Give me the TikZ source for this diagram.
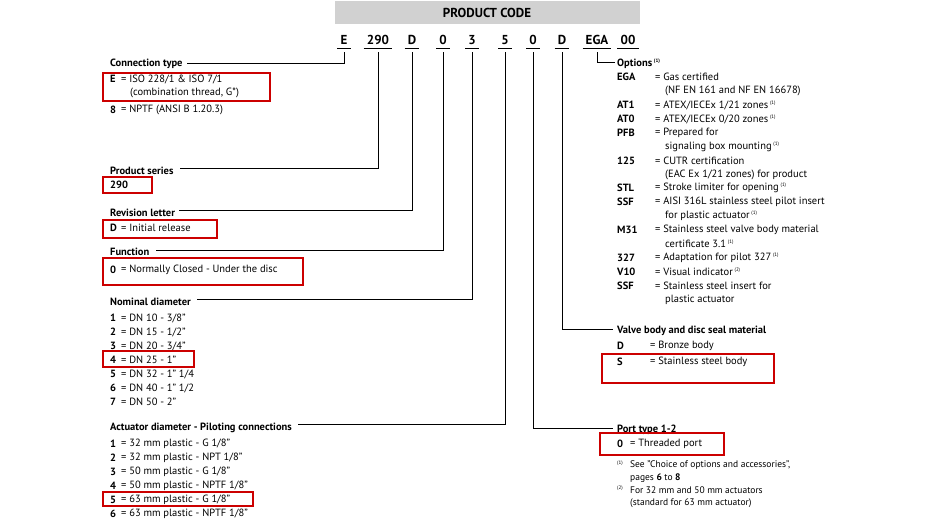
\documentclass[tikz,border=0pt]{standalone}
\usepackage{fontspec}
\setmainfont{PT Sans}
\begin{document}
\begin{tikzpicture}[x=1pt,y=-1pt,
  t/.style={anchor=west,inner sep=0pt,font=\fontsize{10.5}{12}\selectfont},
  hd/.style={t,font=\fontsize{10.5}{12}\selectfont\bfseries},
  code/.style={inner sep=0pt,font=\fontsize{13}{15}\selectfont\bfseries},
  ln/.style={line width=1pt},
  rb/.style={draw=red!80!black,line width=1.2pt},
  sup/.style={t,font=\fontsize{5}{6}\selectfont},
  fn/.style={t,font=\fontsize{9.5}{11}\selectfont}]
\useasboundingbox (0,0) rectangle (930,522);
\fill[black!18] (335,1) rectangle (640,24);
\node[code] (pc) at (487,13) {PRODUCT CODE};
\foreach \n/\x/\s in {c1/344/E,c2/378/290,c3/412/D,c4/443/0,c5/472/3,c6/505/5,c7/533/0,c8/562/D,c9/597/EGA,c10/628/00}{
  \node[code,anchor=base] (\n) at (\x,45) {\s};
  \draw[ln] ([xshift=-3pt,yshift=-3pt]\n.south west) -- ([xshift=3pt,yshift=-3pt]\n.south east);
}
% headings
\node[hd] (h1) at (110,64) {Connection type};
\node[hd] (h2) at (110,171) {Product series};
\node[hd] (h3) at (110,213) {Revision letter};
\node[hd] (h4) at (110,252) {Function};
\node[hd] (h5) at (110,302) {Nominal diameter};
\node[hd] (h6) at (110,428) {Actuator diameter - Piloting connections};
\node[hd] (h9) at (617,64) {Options\,\textsuperscript{\tiny(1)}};
\node[hd] (h8) at (617,331) {Valve body and disc seal material};
\node[hd] (h7) at (617,430) {Port type 1-2};
% connectors
\draw[ln] (c1.south) ++(0,7) |- ([xshift=4pt,yshift=1pt]h1.east);
\draw[ln] (c2.south) ++(0,7) |- ([xshift=6pt,yshift=3pt]h2.east);
\draw[ln] (c3.south) ++(0,7) |- ([xshift=4pt,yshift=3pt]h3.east);
\draw[ln] (c4.south) ++(0,7) |- ([xshift=6pt,yshift=2pt]h4.east);
\draw[ln] (c5.south) ++(0,7) |- ([xshift=6pt,yshift=3pt]h5.east);
\draw[ln] (c6.south) ++(0,7) |- ([xshift=6pt,yshift=4pt]h6.east);
\draw[ln] (c7.south) ++(0,7) |- ([xshift=-4pt,yshift=2pt]h7.west);
\draw[ln] (c8.south) ++(0,7) |- ([xshift=-4pt,yshift=2pt]h8.west);
\draw[ln] (c9.south) ++(0,7) |- ([xshift=-2pt,yshift=2pt]h9.west);
% left lists
\foreach \y/\k in {79/E,110/8,185/290,228/D,270/0,318/1,332/2,346/3,360/4,374/5,388/6,402/7,444/1,458/2,472/3,486/4,500/5,514/6}{
  \node[hd] at (110,\y) {\k};
}
\foreach \y/\d in {79/{ISO 228/1 \& ISO 7/1}, 110/{NPTF (ANSI B 1.20.3)},
  228/{Initial release}, 270/{Normally Closed - Under the disc},
  318/{DN 10 - 3/8"}, 332/{DN 15 - 1/2"}, 346/{DN 20 - 3/4"}, 360/{DN 25 - 1"}, 374/{DN 32 - 1" 1/4}, 388/{DN 40 - 1" 1/2}, 402/{DN 50 - 2"},
  444/{32 mm plastic - G 1/8"}, 458/{32 mm plastic - NPT 1/8"}, 472/{50 mm plastic - G 1/8"}, 486/{50 mm plastic - NPTF 1/8"}, 500/{63 mm plastic - G 1/8"}, 514/{63 mm plastic - NPTF 1/8"}}{
  \node[t] at (121,\y) {= \d};
}
\node[t] at (130,93) {(combination thread, G*)};
% options
\foreach \y/\k in {77/EGA,105/AT1,119/AT0,133/PFB,161/125,188/STL,202/SSF,230/M31,258/327,272/V10,286/SSF}{
  \node[hd] at (617,\y) {\k};
}
\foreach \y/\d in {77/{= Gas certified},105/{= ATEX/IECEx 1/21 zones\,\textsuperscript{\tiny(1)}},119/{= ATEX/IECEx 0/20 zones\,\textsuperscript{\tiny(1)}},133/{= Prepared for},161/{= CUTR certification},188/{= Stroke limiter for opening\,\textsuperscript{\tiny(1)}},202/{= AISI 316L stainless steel pilot insert},230/{= Stainless steel valve body material},258/{= Adaptation for pilot 327\,\textsuperscript{\tiny(1)}},272/{= Visual indicator\,\textsuperscript{\tiny(2)}},286/{= Stainless steel insert for}}{
  \node[t] at (655,\y) {\d};
}
\foreach \y/\d in {91/{(NF EN 161 and NF EN 16678)},147/{signaling box mounting\,\textsuperscript{\tiny(1)}},175/{(EAC Ex 1/21 zones) for product},216/{for plastic actuator\,\textsuperscript{\tiny(1)}},244/{certificate 3.1\,\textsuperscript{\tiny(1)}},300/{plastic actuator}}{
  \node[t] at (665,\y) {\d};
}
\node[hd] at (617,346) {D}; \node[t] at (650,346) {= Bronze body};
\node[hd] at (617,362) {S}; \node[t] at (650,362) {= Stainless steel body};
\node[hd] at (617,444) {0}; \node[t] at (630,444) {= Threaded port};
\node[sup] at (617,463) {(1)}; \node[fn] at (630,465) {See ''Choice of options and accessories'',};
\node[fn] at (630,478) {pages \textbf{6} to \textbf{8}};
\node[sup] at (617,488) {(2)}; \node[fn] at (630,490) {For 32 mm and 50 mm actuators};
\node[fn] at (630,503) {(standard for 63 mm actuator)};
% red boxes
\draw[rb] (103,73) rectangle (270,101);
\draw[rb] (103,177) rectangle (152,193);
\draw[rb] (103,220) rectangle (217,238);
\draw[rb] (103,258) rectangle (303,285);
\draw[rb] (103,351) rectangle (194,367);
\draw[rb] (103,492) rectangle (253,506);
\draw[rb] (602,354) rectangle (774,383);
\draw[rb] (600,433) rectangle (724,455);
\end{tikzpicture}
\end{document}
